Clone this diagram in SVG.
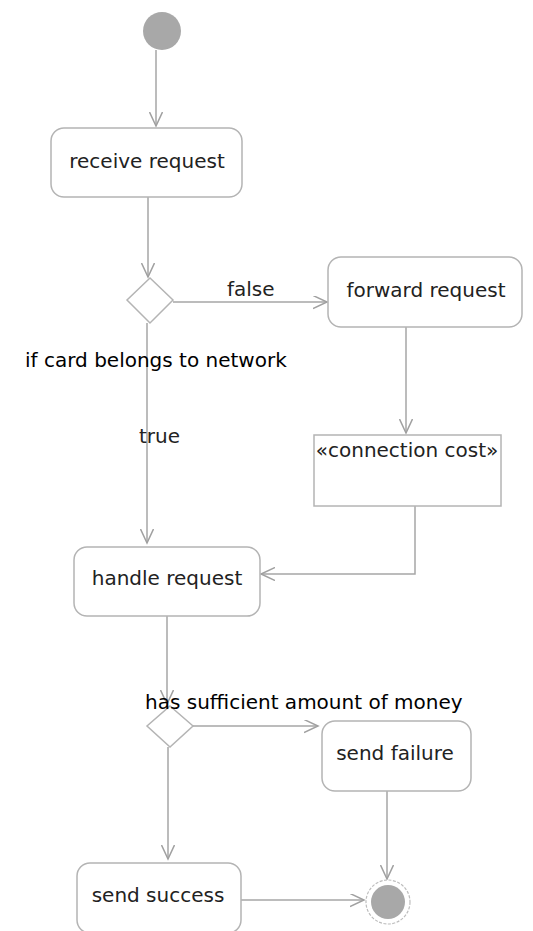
<svg xmlns="http://www.w3.org/2000/svg" width="533" height="931" viewBox="0 0 533 931">
<defs>
<marker id="arr" markerUnits="userSpaceOnUse" markerWidth="16" markerHeight="14" refX="14" refY="6.5" orient="auto">
<path d="M0,0 L14,6.5 L0,13" fill="none" stroke="#a0a0a0" stroke-width="1.5"/>
</marker>
<style>
.box{fill:#fff;stroke:#b4b4b4;stroke-width:1.5}
.edge{fill:none;stroke:#a6a6a6;stroke-width:1.5;marker-end:url(#arr)}
.t{font-family:"DejaVu Sans",Verdana,sans-serif;font-size:20px;fill:#222}
.c{text-anchor:middle}
.g{fill:#000}
.dot{fill:#a8a8a8}
</style>
</defs>
<rect width="533" height="931" fill="#fff"/>
<g id="connectors">
<path class="edge" d="M156,50 L156,126"/>
<path class="edge" d="M148,197 L148,277"/>
<path class="edge" d="M173,302 L327,302"/>
<path class="edge" d="M147,323 L147,543"/>
<path class="edge" d="M406,327 L406,433"/>
<path class="edge" d="M415,506 L415,574 L261,574"/>
<path class="edge" d="M167,616 L167,704"/>
<path class="edge" d="M193,726 L318,726"/>
<path class="edge" d="M168,747 L168,859"/>
<path class="edge" d="M241,900 L364,900"/>
<path class="edge" d="M387,791 L387,879"/>
<text class="t" x="227" y="296">false</text>
<text class="t" x="139" y="443">true</text>
</g>
<g id="start"><circle class="dot" cx="162" cy="31" r="19"/></g>
<g id="receive"><rect class="box" x="51" y="128" width="191" height="69" rx="13"/><text class="t c" x="147" y="168">receive request</text></g>
<g id="decision1"><path class="box" d="M150,278 L173,300 L150,323 L127,300 Z"/><text class="t g" x="25" y="367">if card belongs to network</text></g>
<g id="forward"><rect class="box" x="328" y="257" width="194" height="70" rx="13"/><text class="t c" x="426" y="297">forward request</text></g>
<g id="cost"><rect class="box" x="314" y="435" width="187" height="71"/><text class="t c" x="407" y="457">«connection cost»</text></g>
<g id="handle"><rect class="box" x="74" y="547" width="186" height="69" rx="13"/><text class="t c" x="167" y="585">handle request</text></g>
<g id="decision2"><path class="box" d="M170,706 L193,726 L170,747 L147,726 Z"/><text class="t g" x="145" y="709">has sufficient amount of money</text></g>
<g id="failure"><rect class="box" x="322" y="721" width="149" height="70" rx="13"/><text class="t c" x="395" y="760">send failure</text></g>
<g id="success"><rect class="box" x="77" y="863" width="164" height="70" rx="13"/><text class="t c" x="158" y="902">send success</text></g>
<g id="final"><circle cx="388" cy="902" r="22" fill="#fff" stroke="#bdbdbd" stroke-width="1.2" stroke-dasharray="3,1.5"/><circle class="dot" cx="388" cy="902" r="17"/></g>
</svg>
